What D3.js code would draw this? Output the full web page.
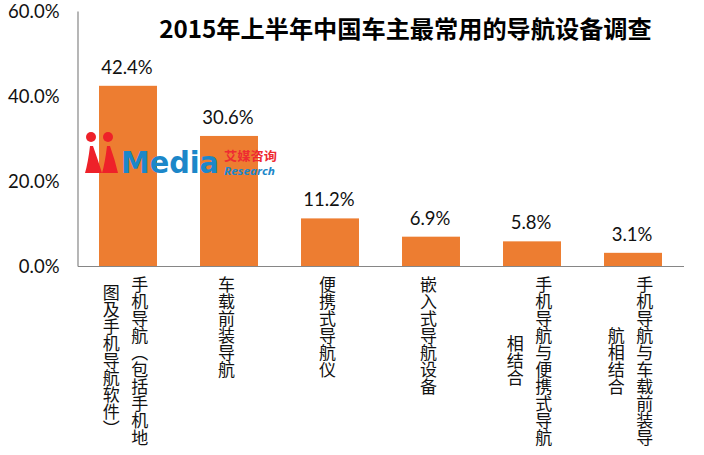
<!DOCTYPE html>
<html>
<head>
<meta charset="utf-8">
<script src="https://cdn.jsdelivr.net/npm/d3@7/dist/d3.min.js"></script>
<style>
    html, body { margin: 0; padding: 0; background: #fff; }
    svg { display: block; }
</style>
</head>
<body>
<script>
const categories = [
    '手机导航（包括手机地图及手机导航软件）',
    '车载前装导航',
    '便携式导航仪',
    '嵌入式导航设备',
    '手机导航与便携式导航相结合',
    '手机导航与车载前装导航相结合'
];
const shares = [42.4, 30.6, 11.2, 6.9, 5.8, 3.1];
const yTicks = [0, 20, 40, 60];
const chartTitle = '2015年上半年中国车主最常用的导航设备调查';

const width = 704, height = 455;
const cjk = '"Noto Sans CJK SC", sans-serif';
const latin = 'Lato, "Noto Sans CJK SC", sans-serif';
const wrapAt = 10, charSize = 17, labelTop = 276, lineGap = 28.5;

const svg = d3.select('body').append('svg')
    .attr('width', width)
    .attr('height', height);

const x = d3.scaleBand()
    .domain(categories)
    .range([77.5, 683.5])
    .paddingInner(0.426)
    .paddingOuter(0.213);

const y = d3.scaleLinear()
    .domain([0, 60])
    .range([266, 11]);

// bars
svg.selectAll('.bar')
    .data(categories)
    .enter().append('rect')
    .attr('class', 'bar')
    .attr('x', d => x(d))
    .attr('y', (d, i) => y(shares[i]))
    .attr('width', x.bandwidth())
    .attr('height', (d, i) => y(0) - y(shares[i]))
    .attr('fill', '#ed7d31');

// value labels
svg.selectAll('.value')
    .data(categories)
    .enter().append('text')
    .attr('class', 'value')
    .attr('x', d => x(d) + x.bandwidth() / 2 - 1)
    .attr('y', (d, i) => y(shares[i]) - 18.5)
    .attr('dy', '0.35em')
    .attr('text-anchor', 'middle')
    .style('font', '18.5px ' + latin)
    .style('fill', '#111')
    .text((d, i) => shares[i].toFixed(1) + '%');

// axes
const yAxis = svg.append('g')
    .attr('transform', 'translate(77.5,0)')
    .call(d3.axisLeft(y).tickValues(yTicks).tickSize(0).tickPadding(18)
        .tickFormat(d => d.toFixed(1) + '%'));
yAxis.select('.domain').attr('stroke', '#868686').attr('stroke-width', 1.2);
yAxis.selectAll('text')
    .attr('dy', '0.37em')
    .style('font', '18.5px ' + latin)
    .style('fill', '#111');

const xAxis = svg.append('g')
    .attr('transform', 'translate(0,266)')
    .call(d3.axisBottom(x).tickSize(0).tickFormat(''));
xAxis.select('.domain').attr('stroke', '#868686').attr('stroke-width', 1.2);

// vertical category labels, wrapped right to left like the original
function wrapLabel(name) {
    var lines = [];
    for (var i = 0; i < name.length; i += wrapAt) {
        lines.push(name.slice(i, i + wrapAt));
    }
    return lines;
}

categories.forEach(function (name) {
    var lines = wrapLabel(name);
    var centre = x(name) + x.bandwidth() / 2 - 2.5;
    var tallest = d3.max(lines, l => l.length) * charSize;
    lines.forEach(function (line, i) {
        var offset = (lines.length - 1) / 2 - i;
        svg.append('text')
            .attr('class', 'category')
            .attr('x', centre + offset * lineGap)
            .attr('y', lines.length > 1 ? labelTop + tallest / 2 : labelTop)
            .attr('text-anchor', lines.length > 1 ? 'middle' : 'start')
            .style('writing-mode', 'vertical-rl')
            .style('font', charSize + 'px ' + cjk)
            .style('fill', '#111')
            .text(line);
    });
});

// title
svg.append('text')
    .attr('x', 405.5)
    .attr('y', 30)
    .attr('dy', '0.35em')
    .attr('text-anchor', 'middle')
    .style('font', 'bold 24.2px ' + cjk)
    .style('fill', '#000')
    .text(chartTitle);

// watermark logo
const logo = svg.append('g').attr('class', 'logo');
[[91, 85, 102], [108, 102, 118]].forEach(function (p) {
    var cx = p[0], left = p[1], right = p[2];
    logo.append('circle')
        .attr('cx', cx).attr('cy', 137).attr('r', 5)
        .attr('fill', '#ee2129');
    logo.append('path')
        .attr('d', 'M' + left + ' 173 Q' + (cx - 3) + ' 163 ' + (cx - 1) + ' 146 '
            + 'L' + (cx + 2) + ' 146 '
            + 'Q' + (cx + 7) + ' 160 ' + right + ' 173 Z')
        .attr('fill', '#ee2129');
});
logo.append('text')
    .attr('x', 121).attr('y', 173)
    .attr('textLength', 98).attr('lengthAdjust', 'spacingAndGlyphs')
    .style('font', 'bold 30px "DejaVu Sans", sans-serif')
    .style('fill', '#1c87c9')
    .text('Media');
logo.append('text')
    .attr('x', 224).attr('y', 161)
    .attr('textLength', 53).attr('lengthAdjust', 'spacingAndGlyphs')
    .style('font', 'bold 12px ' + cjk)
    .style('fill', '#ee2b32')
    .text('艾媒咨询');
logo.append('text')
    .attr('x', 224).attr('y', 175)
    .attr('textLength', 51).attr('lengthAdjust', 'spacingAndGlyphs')
    .style('font', 'italic bold 11px "Open Sans", sans-serif')
    .style('fill', '#1c87c9')
    .text('Research');
</script>
</body>
</html>
